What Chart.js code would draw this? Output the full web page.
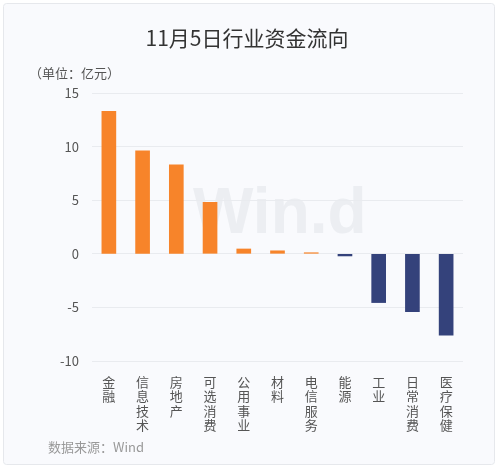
<!DOCTYPE html>
<html>
<head>
<meta charset="utf-8">
<script src="https://cdn.jsdelivr.net/npm/chart.js@4/dist/chart.umd.min.js"></script>
<style>
  html, body { margin: 0; padding: 0; background: #fff; }
  #wrap { width: 500px; height: 468px; }
</style>
</head>
<body>
<div id="wrap"><canvas id="c"></canvas></div>
<script>
const categories = ['金融', '信息技术', '房地产', '可选消费', '公用事业', '材料', '电信服务', '能源', '工业', '日常消费', '医疗保健']
const flows = [13.3, 9.6, 8.3, 4.8, 0.45, 0.28, 0.1, -0.2, -4.55, -5.4, -7.6]
const yTicks = [-10, -5, 0, 5, 10, 15]

const FONT = '"Noto Sans CJK SC", "Noto Sans", sans-serif'

// card background, title, unit, source and watermark
const decor = {
  id: 'decor',
  beforeDraw(chart) {
    const ctx = chart.ctx
    ctx.save()
    ctx.fillStyle = '#f9fafd'
    ctx.strokeStyle = '#e6e8ec'
    ctx.lineWidth = 1
    ctx.beginPath()
    ctx.roundRect(3.5, 3.5, 491, 461, 3)
    ctx.fill()
    ctx.stroke()

    ctx.fillStyle = '#eceef2'
    ctx.font = 'bold 64px "Liberation Sans", sans-serif'
    ctx.textAlign = 'left'
    ctx.textBaseline = 'alphabetic'
    ctx.fillText('Win.d', 193, 233)

    ctx.fillStyle = '#333'
    ctx.font = '21px ' + FONT
    ctx.textAlign = 'center'
    ctx.textBaseline = 'middle'
    ctx.fillText('11月5日行业资金流向', 247, 38)

    ctx.fillStyle = '#555'
    ctx.font = '13px ' + FONT
    ctx.textAlign = 'left'
    ctx.fillText('（单位：亿元）', 29, 73)

    ctx.fillStyle = '#999'
    ctx.fillText('数据来源：Wind', 48, 447)
    ctx.restore()
  }
}

new Chart(document.getElementById('c'), {
  type: 'bar',
  data: {
    labels: categories.map(s => s.split('')),
    datasets: [{
      data: flows,
      backgroundColor: flows.map(v => v >= 0 ? '#f7842a' : '#34427b'),
      barThickness: 14
    }]
  },
  options: {
    responsive: true,
    maintainAspectRatio: false,
    animation: false,
    layout: { padding: { top: 93, right: 37, left: 0, bottom: 0 } },
    plugins: {
      legend: { display: false },
      tooltip: { enabled: false }
    },
    scales: {
      x: {
        grid: { display: false },
        border: { display: false },
        ticks: {
          color: '#555',
          font: { family: FONT, size: 13, lineHeight: 1.1 },
          maxRotation: 0,
          autoSkip: false,
          padding: 6
        },
        afterFit(scale) { scale.height = 107 }
      },
      y: {
        min: -10,
        max: 15,
        afterBuildTicks(scale) { scale.ticks = yTicks.map(v => ({ value: v })) },
        grid: { color: '#e9ebef', drawTicks: false },
        border: { display: false },
        ticks: {
          color: '#555',
          font: { family: FONT, size: 13 },
          padding: 13
        },
        afterFit(scale) { scale.width = 92 }
      }
    }
  },
  plugins: [decor]
})
</script>
</body>
</html>
